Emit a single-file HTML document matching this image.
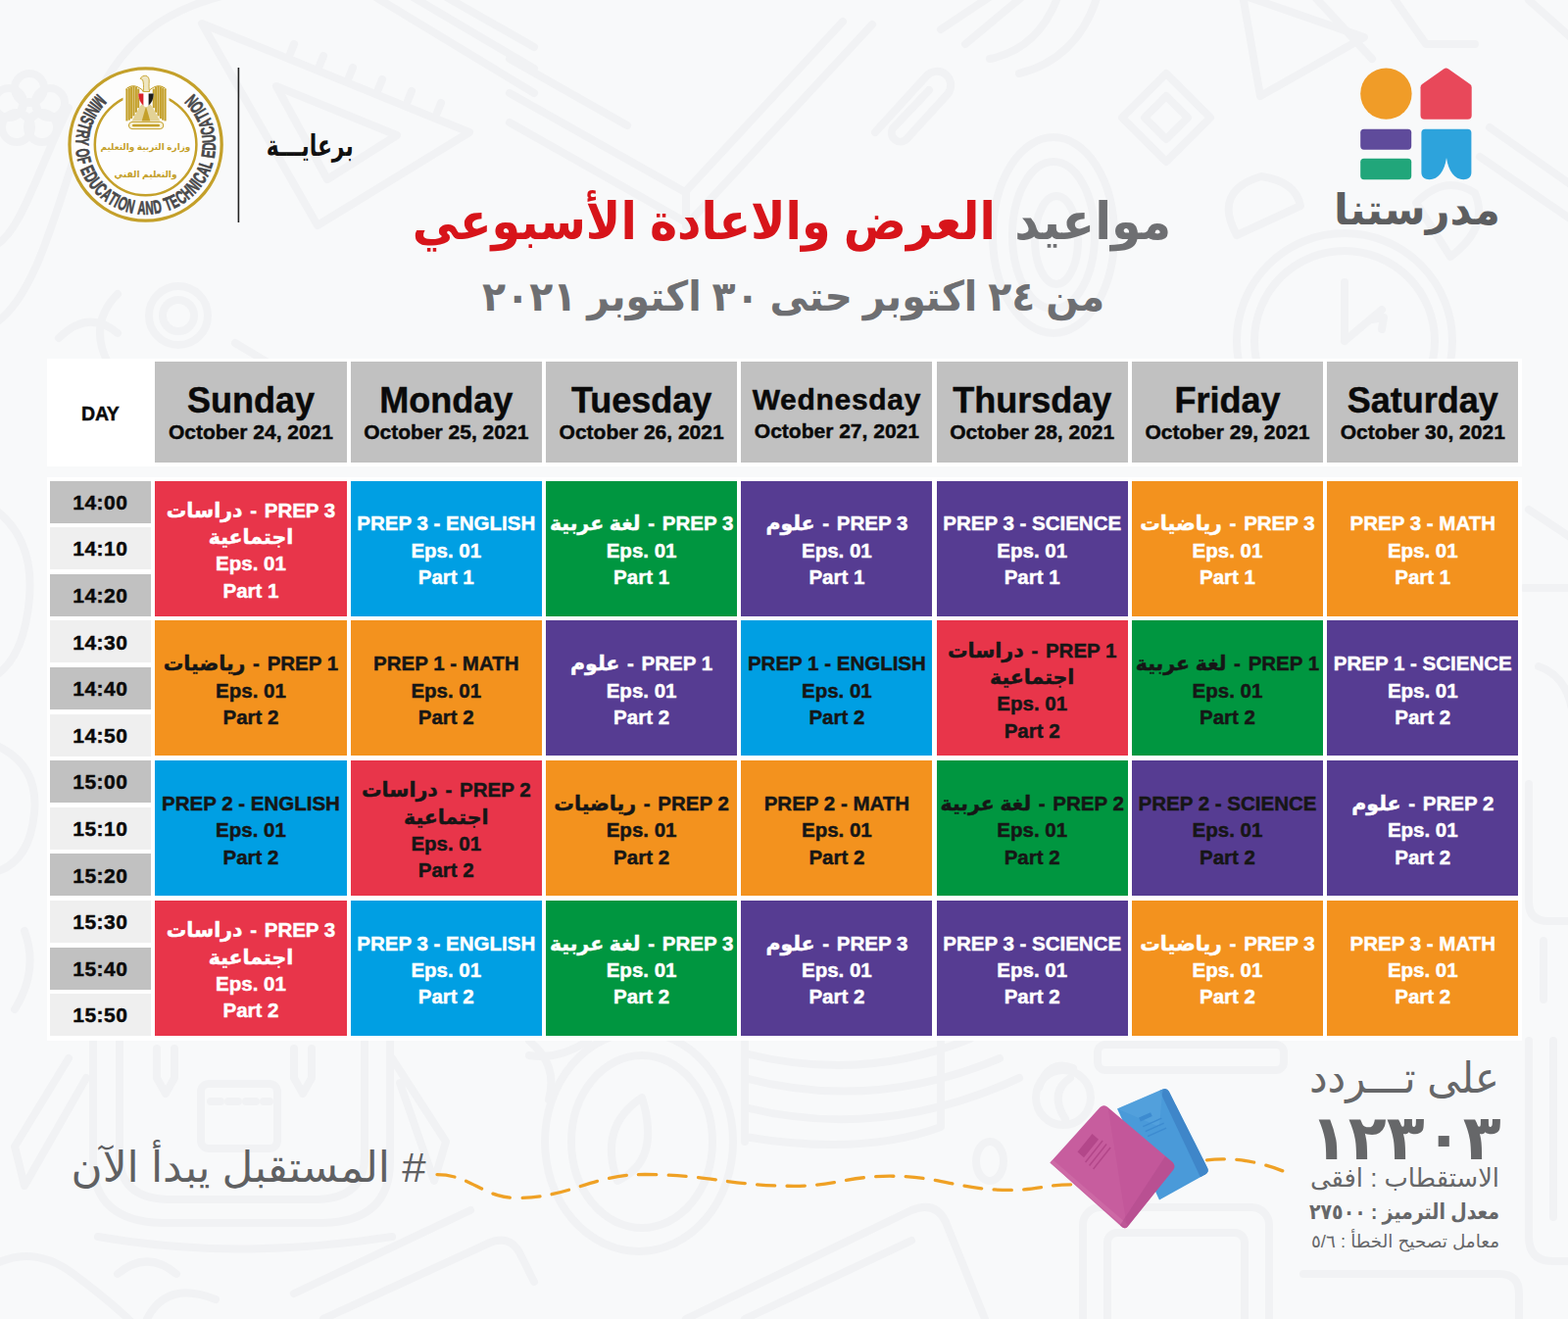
<!DOCTYPE html>
<html lang="en"><head><meta charset="utf-8"><title>Madrasatna weekly schedule</title>
<style>
*{margin:0;padding:0;box-sizing:border-box}
html,body{width:1600px;height:1346px;overflow:hidden;background:#f8f9fa}
body{font-family:"Liberation Sans",sans-serif;font-weight:700;position:relative;-webkit-text-stroke:.45px currentColor}
#root{position:absolute;left:0;top:0;width:1600px;height:1346px;overflow:hidden;background:#f8f9fa}
.abs{position:absolute}
.pn{position:absolute;background:#fff}
.hd{position:absolute;background:#c1c1c1;color:#0a0a0a;text-align:center;white-space:nowrap}
.hd b{position:absolute;left:0;right:0;font-size:36px;line-height:40px;height:40px;font-weight:700;letter-spacing:0}
.hd i{position:absolute;left:0;right:0;font-style:normal;font-size:21px;line-height:26px;height:26px}
.tm{position:absolute;color:#0a0a0a;text-align:center;font-size:21px;white-space:nowrap}
.c{position:absolute;text-align:center;white-space:nowrap;font-size:20.5px;line-height:27.3px;display:flex;flex-direction:column;justify-content:center}
.c p{height:27.3px}
.c p u{text-decoration:none;word-spacing:2px}
.ar{font-family:"Liberation Sans","DejaVu Sans",sans-serif}
svg{display:inline-block}
</style></head><body><div id="root">
<!--BG-->
<svg class="abs" style="left:0;top:0" width="1600" height="1346" viewBox="0 0 1600 1346">
<g fill="none" stroke="#f1f2f4" stroke-width="8" stroke-linecap="round" stroke-linejoin="round"><circle cx="30" cy="90" r="15"/><circle cx="51" cy="105" r="15"/><circle cx="43" cy="130" r="15"/><circle cx="17" cy="130" r="15"/><circle cx="9" cy="105" r="15"/><circle cx="30" cy="112" r="8"/><path d="M-5 330C40 300 60 200 90 120S170 10 230 -5"/><path d="M-5 250C20 240 40 170 70 110"/><path d="M206 24L479 135L324 230Z"/><path d="M282 88L405 138L334 183Z"/><path d="M300 45l-4 10M330 57l-4 10M360 69l-4 10M390 81l-4 10M420 93l-4 10M450 105l-4 10"/><path d="M418 -5L545 70M452 -5L545 48M380 -5L545 95"/><circle cx="182" cy="322" r="30"/><circle cx="182" cy="322" r="16"/><path d="M120 300q-30 30-10 70M240 350l40 24"/><path d="M60 345q30-30 60-5"/><path d="M520 95L699 196L860 22M520 125L702 228L890 25M520 60L640 128"/><path d="M700 196v35"/><path d="M893 135L945 78a14 14 0 0 1 22 18L925 142a9 9 0 0 1-14-11L948 92"/><path d="M960 30l60-40M985 45l60-50"/><ellipse cx="1075" cy="240" rx="62" ry="100"/><ellipse cx="1075" cy="240" rx="42" ry="75"/><ellipse cx="1078" cy="245" rx="22" ry="45"/><path d="M1010 60q50-10 70-65M1040 75q60-15 80-80"/><path d="M1190 75L1235 120L1190 165L1145 120Z" stroke-linejoin="round"/><path d="M1190 98L1212 120L1190 142L1168 120Z"/><path d="M1268 -5L1392 38L1286 98Z"/><path d="M1340 -5L1400 60M1420 -5L1455 45h50"/><circle cx="1372" cy="348" r="110"/><circle cx="1372" cy="348" r="92"/><path d="M1262 240q-25-45 25-60q35 5 40 30zM1480 262q40-30 25-65q-30-20-60 10z"/><path d="M1372 348l38-32M1372 348v-60M1400 326l12-2-2 12"/><path d="M1520 130l85 60M1510 160l95 65M1560 0l45 40"/><path d="M-5 520q40 30 35 90t-35 80M-5 760q45 20 40 70t-40 60M25 950q15 40-10 80"/><path d="M1560 520l45 30M1555 600h50M1570 680q30 10 35 50M1560 800v120q0 20 20 20h25M1575 960v60"/><path d="M95 1058V1185Q95 1246 165 1248H330Q398 1246 398 1185V1058"/><path d="M122 1058V1180Q122 1222 170 1224H325Q372 1222 372 1180V1058"/><rect x="205" y="1106" width="78" height="66" rx="8"/><path d="M215 1124h60" stroke-dasharray="10 8"/><path d="M160 1070v30l9 16l9-16v-30M300 1070v30l9 16l9-16v-30"/><path d="M70 1080L15 1170l10 40L88 1100M400 1080l55 85l-12 40L408 1105"/><path d="M100 1262q140 25 300 0"/><path d="M-5 1290q40-20 80 10t60 50M120 1300q30-25 60 0M150 1346q20-40 70-20"/><path d="M330 1346L500 1268q20-8 30 10l15 30M300 1320l180-85"/><ellipse cx="652" cy="1165" rx="96" ry="112"/><ellipse cx="655" cy="1165" rx="72" ry="88"/><path d="M655 1120q-45 30-25 85q45-20 25-85z"/><path d="M540 1062q30 25 20 60M600 1062q-30 20-60 15"/><path d="M760 1075q120 30 230-15M760 1100q130 35 260-20M760 1130q140 35 280-30M760 1160q120 20 200-10V1062M760 1062V1165"/><path d="M700 1346L930 1235q25-10 35 12l40 99M760 1346l170-80"/><ellipse cx="1010" cy="1185" rx="14" ry="20"/><path d="M1060 1110q10-30 35-20"/><circle cx="1085" cy="1120" r="28"/><path d="M1092 1100q-22 15-5 42"/><rect x="1105" y="1232" width="190" height="140" rx="18"/><rect x="1130" y="1258" width="140" height="110" rx="10"/><rect x="1120" y="1066" width="190" height="26" rx="8"/><path d="M1560 1062v200q0 25 25 25h20M1585 1062v180"/><path d="M1330 1300h200q20 0 20 20v30"/></g><circle cx="148.6" cy="147.5" r="79" fill="#fdfdfd"/>
<circle cx="148.6" cy="147.5" r="77.6" fill="none" stroke="#c4a02a" stroke-width="3.3"/>
<circle cx="148.6" cy="147.5" r="51.8" fill="none" stroke="#c4a02a" stroke-width="2.5"/>
<g font-family="Liberation Sans, sans-serif" font-weight="700" font-size="19.2" fill="#48484a" stroke="#48484a" stroke-width=".7" text-anchor="middle">
<text transform="translate(96.58 98.74) rotate(133.14) scale(0.6 1)">M</text>
<text transform="translate(92.06 104.06) rotate(127.54) scale(0.6 1)">I</text>
<text transform="translate(88.43 109.25) rotate(122.44) scale(0.6 1)">N</text>
<text transform="translate(85.27 114.74) rotate(117.35) scale(0.6 1)">I</text>
<text transform="translate(82.73 120.2) rotate(112.51) scale(0.6 1)">S</text>
<text transform="translate(80.11 127.69) rotate(106.13) scale(0.6 1)">T</text>
<text transform="translate(78.28 135.74) rotate(99.5) scale(0.6 1)">R</text>
<text transform="translate(77.37 144.26) rotate(92.6) scale(0.6 1)">Y</text>
<text transform="translate(77.92 156.91) rotate(82.41) scale(0.6 1)">O</text>
<text transform="translate(79.56 165.33) rotate(75.52) scale(0.6 1)">F</text>
<text transform="translate(83.41 176.38) rotate(66.1) scale(0.6 1)">E</text>
<text transform="translate(87.35 184) rotate(59.21) scale(0.6 1)">D</text>
<text transform="translate(92.37 191.34) rotate(52.06) scale(0.6 1)">U</text>
<text transform="translate(98.26 198) rotate(44.91) scale(0.6 1)">C</text>
<text transform="translate(104.94 203.87) rotate(37.76) scale(0.6 1)">A</text>
<text transform="translate(111.75 208.54) rotate(31.12) scale(0.6 1)">T</text>
<text transform="translate(116.74 211.28) rotate(26.54) scale(0.6 1)">I</text>
<text transform="translate(122.82 213.98) rotate(21.19) scale(0.6 1)">O</text>
<text transform="translate(131.61 216.75) rotate(13.79) scale(0.6 1)">N</text>
<text transform="translate(144.13 218.66) rotate(3.6) scale(0.6 1)">A</text>
<text transform="translate(153.02 218.66) rotate(-3.55) scale(0.6 1)">N</text>
<text transform="translate(161.84 217.56) rotate(-10.7) scale(0.6 1)">D</text>
<text transform="translate(173.42 214.34) rotate(-20.37) scale(0.6 1)">T</text>
<text transform="translate(180.7 211.17) rotate(-26.75) scale(0.6 1)">E</text>
<text transform="translate(188.11 206.85) rotate(-33.65) scale(0.6 1)">C</text>
<text transform="translate(195.19 201.47) rotate(-40.8) scale(0.6 1)">H</text>
<text transform="translate(201.54 195.26) rotate(-47.95) scale(0.6 1)">N</text>
<text transform="translate(205.58 190.37) rotate(-53.04) scale(0.6 1)">I</text>
<text transform="translate(209.16 185.14) rotate(-58.14) scale(0.6 1)">C</text>
<text transform="translate(213.37 177.31) rotate(-65.29) scale(0.6 1)">A</text>
<text transform="translate(216.38 169.62) rotate(-71.92) scale(0.6 1)">L</text>
<text transform="translate(219.09 158.24) rotate(-81.34) scale(0.6 1)">E</text>
<text transform="translate(219.87 149.7) rotate(-88.23) scale(0.6 1)">D</text>
<text transform="translate(219.59 140.81) rotate(-95.38) scale(0.6 1)">U</text>
<text transform="translate(218.2 132.03) rotate(-102.53) scale(0.6 1)">C</text>
<text transform="translate(215.73 123.48) rotate(-109.68) scale(0.6 1)">A</text>
<text transform="translate(212.51 115.89) rotate(-116.32) scale(0.6 1)">T</text>
<text transform="translate(209.78 110.89) rotate(-120.9) scale(0.6 1)">I</text>
<text transform="translate(206.1 105.34) rotate(-126.25) scale(0.6 1)">O</text>
<text transform="translate(200.18 98.28) rotate(-133.66) scale(0.6 1)">N</text>
</g>
<path fill="#fdfdfd" d="M125.5 86h47v41q-23.500 9-47 0z"/>
<rect x="128.4" y="90.8" width="2.1" height="32.6" fill="#c4a02a"/>
<rect x="167.5" y="90.8" width="2.1" height="32.6" fill="#c4a02a"/>
<rect x="130.75" y="89.4" width="2.1" height="33.2" fill="#c4a02a"/>
<rect x="165.15" y="89.4" width="2.1" height="33.2" fill="#c4a02a"/>
<rect x="133.1" y="88.4" width="2.1" height="32.6" fill="#c4a02a"/>
<rect x="162.8" y="88.4" width="2.1" height="32.6" fill="#c4a02a"/>
<rect x="135.45" y="88" width="2.1" height="30.4" fill="#c4a02a"/>
<rect x="160.45" y="88" width="2.1" height="30.4" fill="#c4a02a"/>
<rect x="137.8" y="88.6" width="2.1" height="26.2" fill="#c4a02a"/>
<rect x="158.1" y="88.6" width="2.1" height="26.2" fill="#c4a02a"/>
<rect x="140.15" y="90.6" width="2.1" height="19.6" fill="#c4a02a"/>
<rect x="155.75" y="90.6" width="2.1" height="19.6" fill="#c4a02a"/>
<path fill="none" stroke="#c4a02a" stroke-width="1" d="M128.400 91Q134 86 140 88.500T146 93.500M169.600 91Q164 86 158 88.500T152 93.500"/>
<path fill="#e3d296" d="M142.500 109L149 101l6.500 8L163.500 123.500H134.500z"/>
<path fill="#c4a02a" d="M149 108.500l-4.300 15h8.600z"/>
<path fill="#efe6c2" stroke="#c4a02a" stroke-width=".9" d="M146.200 93.500C146.800 88 146.500 84.500 145.600 81.500L143.200 80.300C144.200 78.200 146.500 77 148.800 77.300C151.200 77.700 152.400 80 152.200 83C152 86.500 151.800 90 152.600 93.500z"/>
<path fill="#fff" d="M141.200 95.400h15.600c0 6-2.800 11-7.800 14.200c-5-3.200-7.800-8.200-7.800-14.200z"/>
<path fill="#d8232a" d="M141.200 95.400h5.200v12.300c-3.400-3-5.200-7.300-5.200-12.300z"/>
<path fill="#1c1c1c" d="M156.800 95.400h-5.200v12.300c3.400-3 5.200-7.300 5.200-12.300z"/>
<rect x="131.400" y="124.400" width="35.400" height="7.200" rx="3.600" fill="#f7f1d8" stroke="#c4a02a" stroke-width="1"/>
<rect x="135" y="126.700" width="28" height="2.600" rx="1.300" fill="#c4a02a"/>
<g font-family="Liberation Sans, DejaVu Sans, sans-serif" style="-webkit-text-stroke:0">
<text x="148.4" y="153" font-size="9" font-weight="700" fill="#c4a02a" text-anchor="middle" textLength="92" lengthAdjust="spacingAndGlyphs">وزارة التربية والتعليم</text>
<text x="148.6" y="181" font-size="9.5" font-weight="700" fill="#c4a02a" text-anchor="middle" textLength="64" lengthAdjust="spacingAndGlyphs">والتعليم الفني</text>
<text x="1195.2" y="243.5" font-size="52" font-weight="700" fill="#6e6f72" text-anchor="end" textLength="160" lengthAdjust="spacingAndGlyphs">مواعيد</text>
<text x="1015.8" y="243.5" font-size="52" font-weight="700" fill="#d7141a" text-anchor="end" textLength="595" lengthAdjust="spacingAndGlyphs">العرض والاعادة الأسبوعي</text>
<text x="809.6" y="316.9" font-size="42" font-weight="700" fill="#6e6f72" text-anchor="middle" textLength="635" lengthAdjust="spacingAndGlyphs">من ٢٤ اكتوبر حتى ٣٠ اكتوبر ٢٠٢١</text>
<text x="360.7" y="159" font-size="30" font-weight="700" fill="#111" text-anchor="end" textLength="89" lengthAdjust="spacingAndGlyphs">برعايـــة</text>
<text x="1531" y="228.5" font-size="44" font-weight="700" fill="#5d5e60" text-anchor="end" textLength="170" lengthAdjust="spacingAndGlyphs">مدرستنا</text>
<text x="1530" y="1115.3" font-size="44" font-weight="400" fill="#666769" text-anchor="end" textLength="194" lengthAdjust="spacingAndGlyphs">على تـــردد</text>
<text x="1531.7" y="1183.1" font-size="64" font-weight="700" fill="#666769" text-anchor="end" textLength="195" lengthAdjust="spacingAndGlyphs">١٢٣٠٣</text>
<text x="1530" y="1210.6" font-size="26" font-weight="400" fill="#666769" text-anchor="end" textLength="193" lengthAdjust="spacingAndGlyphs">الاستقطاب : افقى</text>
<text x="1530" y="1244" font-size="22" font-weight="700" fill="#666769" text-anchor="end" textLength="194" lengthAdjust="spacingAndGlyphs">معدل الترميز : ٢٧٥٠٠</text>
<text x="1530" y="1272.7" font-size="18" font-weight="400" fill="#666769" text-anchor="end" textLength="192" lengthAdjust="spacingAndGlyphs">معامل تصحيح الخطأ : ٥/٦</text>
<text x="434.5" y="1206.2" font-size="43" font-weight="400" fill="#5f6062" text-anchor="end" textLength="362" lengthAdjust="spacingAndGlyphs">&#x200F;# المستقبل يبدأ الآن</text>
</g>
<rect x="242.6" y="69" width="1.6" height="158" fill="#222"/>
<circle cx="1414.4" cy="95.6" r="26.2" fill="#f09c28"/>
<path fill="#e8485a" d="M1453.5 121.7h44.2a4 4 0 0 0 4-4V89.2a4 4 0 0 0-1.5-3.1l-22-15.6a4.5 4.5 0 0 0-5.2 0l-22 15.6a4 4 0 0 0-1.5 3.1v28.5a4 4 0 0 0 4 4z"/>
<rect x="1388.2" y="131.7" width="52" height="21" rx="3.6" fill="#5f4b9b"/>
<rect x="1388.2" y="161.7" width="52" height="21.5" rx="3.6" fill="#21a67a"/>
<path fill="#2da3dc" d="M1454.2 131.7h43.4a3.8 3.8 0 0 1 3.8 3.8v40.5c0 5-3.6 7.2-8 7.2c-9 0-15.5-8.5-17.4-22.2c-1.9 13.7-8.4 22.2-17.4 22.2c-4.4 0-8.2-2.2-8.2-7.2v-40.5a3.8 3.8 0 0 1 3.8-3.8z"/>
<path fill="none" stroke="#efa125" stroke-width="3.3" stroke-linecap="round" stroke-dasharray="18 12.4" d="M446 1198.6C480.02 1198.6 492.98 1222.5 527 1222.5C582.02 1222.5 602.98 1198.5 658 1198.5C721.84 1198.5 746.16 1210.3 810 1210.3C851.16 1210.3 866.84 1200.2 908 1200.2C959.24 1200.2 978.76 1214.4 1030 1214.4C1057.3 1214.4 1067.7 1208.8 1095 1208.8"/>
<path fill="none" stroke="#efa125" stroke-width="3.3" stroke-linecap="round" stroke-dasharray="18 12.4" d="M1231.5 1183.8C1245 1182 1262 1182.5 1279 1186C1290 1188.5 1300 1191 1309 1195"/>
<g><path fill="#4a9ad9" d="M1140 1131.5L1186.5 1111.6q4-1.6 6.3 2.2L1232.2 1192q1.8 4-2 6.2L1183 1224.4z"/><path fill="#3f86c9" d="M1187 1111.400q3.800-1.400 5.800 2.400L1232.200 1192q1.800 4-2 6.200l-5.300 3L1183.200 1113z"/><path fill="#5aa6e0" d="M1140 1131.500L1186.500 1111.600L1183 1150z" opacity=".5"/><path fill="#3d8bd0" d="M1162 1140.500l12-5.300 1.800 3.800-12 5.400zM1166 1149l19-8.500.6 1.300-19 8.500zM1168.400 1154l19-8.500.6 1.300-19 8.500zM1170.800 1159l19-8.500.6 1.300-19 8.500z"/></g>
<g><path fill="#c3579a" d="M1071.5 1186.500L1122.500 1130q4-3.600 8 0L1196.500 1186q3.600 4 .5 8L1150.500 1252q-2.600 2.600-5.600 0z"/><path fill="#d070aa" d="M1071.500 1186.500l2.800-3.100 76.600 66.400-2.400 3.400z" opacity=".7"/><path fill="#cf6aa6" d="M1122.500 1130q4-3.600 8 0L1150 1252q-2.600 2.600-5.600 0L1071.500 1186.500z" opacity=".35"/><path fill="#b04a8c" d="M1189 1180l7.500 6q3.600 4 .5 8L1150.500 1252q-2.600 2.600-5.600 0l-2-1.800z" opacity=".55"/><path fill="#b3478a" d="M1114.500 1157l6.500 5.800-15 18.500-6.500-5.800zM1124.500 1163.500l1.200 1-17.500 22-1.200-1zM1128.500 1167l1.200 1-17.500 22-1.200-1zM1132.500 1170.500l1.200 1-17.500 22-1.200-1z"/></g>
</svg>
<div class="pn" style="left:47.5px;top:365.5px;width:1505.5px;height:110.5px"></div>
<div class="pn" style="left:47.5px;top:486.5px;width:1505.5px;height:575.2px"></div>
<div class="abs" style="left:49px;top:369px;width:106.1px;height:103.1px;background:#fff"></div>
<div class="tm" style="left:50.6px;top:406.84px;width:103.5px;height:30px;line-height:30px;font-size:19.5px;letter-spacing:-0.3px">DAY</div>
<div class="hd" style="left:158.4px;top:369px;width:195.2px;height:103.1px"><b style="top:19.83px;font-size:36px;">Sunday</b><i style="top:59.12px">October 24, 2021</i></div>
<div class="hd" style="left:357.7px;top:369px;width:195.2px;height:103.1px"><b style="top:19.83px;font-size:36px;">Monday</b><i style="top:59.12px">October 25, 2021</i></div>
<div class="hd" style="left:557px;top:369px;width:195.2px;height:103.1px"><b style="top:19.83px;font-size:36px;">Tuesday</b><i style="top:59.12px">October 26, 2021</i></div>
<div class="hd" style="left:756.3px;top:369px;width:195.2px;height:103.1px"><b style="top:19px;font-size:30px;letter-spacing:0.7px;">Wednesday</b><i style="top:57.82px">October 27, 2021</i></div>
<div class="hd" style="left:955.6px;top:369px;width:195.2px;height:103.1px"><b style="top:19.83px;font-size:36px;">Thursday</b><i style="top:59.12px">October 28, 2021</i></div>
<div class="hd" style="left:1154.9px;top:369px;width:195.2px;height:103.1px"><b style="top:19.83px;font-size:36px;">Friday</b><i style="top:59.12px">October 29, 2021</i></div>
<div class="hd" style="left:1354.2px;top:369px;width:195.2px;height:103.1px"><b style="top:19.83px;font-size:36px;">Saturday</b><i style="top:59.12px">October 30, 2021</i></div>
<div class="tm" style="left:50.6px;top:490.6px;width:103.5px;height:43px;line-height:43px;background:#c1c1c1;padding-top:.2px;letter-spacing:.5px">14:00</div>
<div class="tm" style="left:50.6px;top:538.2px;width:103.5px;height:43px;line-height:43px;background:#efefef;padding-top:.2px;letter-spacing:.5px">14:10</div>
<div class="tm" style="left:50.6px;top:585.8px;width:103.5px;height:43px;line-height:43px;background:#c1c1c1;padding-top:.2px;letter-spacing:.5px">14:20</div>
<div class="tm" style="left:50.6px;top:633.4px;width:103.5px;height:43px;line-height:43px;background:#efefef;padding-top:.2px;letter-spacing:.5px">14:30</div>
<div class="tm" style="left:50.6px;top:681px;width:103.5px;height:43px;line-height:43px;background:#c1c1c1;padding-top:.2px;letter-spacing:.5px">14:40</div>
<div class="tm" style="left:50.6px;top:728.6px;width:103.5px;height:43px;line-height:43px;background:#efefef;padding-top:.2px;letter-spacing:.5px">14:50</div>
<div class="tm" style="left:50.6px;top:776.2px;width:103.5px;height:43px;line-height:43px;background:#c1c1c1;padding-top:.2px;letter-spacing:.5px">15:00</div>
<div class="tm" style="left:50.6px;top:823.8px;width:103.5px;height:43px;line-height:43px;background:#efefef;padding-top:.2px;letter-spacing:.5px">15:10</div>
<div class="tm" style="left:50.6px;top:871.4px;width:103.5px;height:43px;line-height:43px;background:#c1c1c1;padding-top:.2px;letter-spacing:.5px">15:20</div>
<div class="tm" style="left:50.6px;top:919px;width:103.5px;height:43px;line-height:43px;background:#efefef;padding-top:.2px;letter-spacing:.5px">15:30</div>
<div class="tm" style="left:50.6px;top:966.6px;width:103.5px;height:43px;line-height:43px;background:#c1c1c1;padding-top:.2px;letter-spacing:.5px">15:40</div>
<div class="tm" style="left:50.6px;top:1014.2px;width:103.5px;height:43px;line-height:43px;background:#efefef;padding-top:.2px;letter-spacing:.5px">15:50</div>
<div class="c" style="left:158.4px;top:490.6px;width:195.2px;height:138.1px;background:#e8354a;color:#fff;padding-top:3.6px"><p class="r"><span class="ar" dir="rtl">دراسات</span><u> - </u>PREP 3</p><p class="r"><span class="ar" dir="rtl">اجتماعية</span></p><p>Eps. 01</p><p>Part 1</p></div>
<div class="c" style="left:357.7px;top:490.6px;width:195.2px;height:138.1px;background:#009fe3;color:#fff;padding-top:3.6px"><p>PREP 3 - ENGLISH</p><p>Eps. 01</p><p>Part 1</p></div>
<div class="c" style="left:557px;top:490.6px;width:195.2px;height:138.1px;background:#009640;color:#fff;padding-top:3.6px"><p class="r"><span class="ar" dir="rtl">لغة عربية</span><u> - </u>PREP 3</p><p>Eps. 01</p><p>Part 1</p></div>
<div class="c" style="left:756.3px;top:490.6px;width:195.2px;height:138.1px;background:#563c92;color:#fff;padding-top:3.6px"><p class="r"><span class="ar" dir="rtl">علوم</span><u> - </u>PREP 3</p><p>Eps. 01</p><p>Part 1</p></div>
<div class="c" style="left:955.6px;top:490.6px;width:195.2px;height:138.1px;background:#563c92;color:#fff;padding-top:3.6px"><p>PREP 3 - SCIENCE</p><p>Eps. 01</p><p>Part 1</p></div>
<div class="c" style="left:1154.9px;top:490.6px;width:195.2px;height:138.1px;background:#f3921e;color:#fff;padding-top:3.6px"><p class="r"><span class="ar" dir="rtl">رياضيات</span><u> - </u>PREP 3</p><p>Eps. 01</p><p>Part 1</p></div>
<div class="c" style="left:1354.2px;top:490.6px;width:195.2px;height:138.1px;background:#f3921e;color:#fff;padding-top:3.6px"><p>PREP 3 - MATH</p><p>Eps. 01</p><p>Part 1</p></div>
<div class="c" style="left:158.4px;top:633.4px;width:195.2px;height:138.1px;background:#f3921e;color:#161616;padding-top:3.6px"><p class="r"><span class="ar" dir="rtl">رياضيات</span><u> - </u>PREP 1</p><p>Eps. 01</p><p>Part 2</p></div>
<div class="c" style="left:357.7px;top:633.4px;width:195.2px;height:138.1px;background:#f3921e;color:#161616;padding-top:3.6px"><p>PREP 1 - MATH</p><p>Eps. 01</p><p>Part 2</p></div>
<div class="c" style="left:557px;top:633.4px;width:195.2px;height:138.1px;background:#563c92;color:#fff;padding-top:3.6px"><p class="r"><span class="ar" dir="rtl">علوم</span><u> - </u>PREP 1</p><p>Eps. 01</p><p>Part 2</p></div>
<div class="c" style="left:756.3px;top:633.4px;width:195.2px;height:138.1px;background:#009fe3;color:#161616;padding-top:3.6px"><p>PREP 1 - ENGLISH</p><p>Eps. 01</p><p>Part 2</p></div>
<div class="c" style="left:955.6px;top:633.4px;width:195.2px;height:138.1px;background:#e8354a;color:#161616;padding-top:3.6px"><p class="r"><span class="ar" dir="rtl">دراسات</span><u> - </u>PREP 1</p><p class="r"><span class="ar" dir="rtl">اجتماعية</span></p><p>Eps. 01</p><p>Part 2</p></div>
<div class="c" style="left:1154.9px;top:633.4px;width:195.2px;height:138.1px;background:#009640;color:#161616;padding-top:3.6px"><p class="r"><span class="ar" dir="rtl">لغة عربية</span><u> - </u>PREP 1</p><p>Eps. 01</p><p>Part 2</p></div>
<div class="c" style="left:1354.2px;top:633.4px;width:195.2px;height:138.1px;background:#563c92;color:#fff;padding-top:3.6px"><p>PREP 1 - SCIENCE</p><p>Eps. 01</p><p>Part 2</p></div>
<div class="c" style="left:158.4px;top:776.2px;width:195.2px;height:138.1px;background:#009fe3;color:#161616;padding-top:3.6px"><p>PREP 2 - ENGLISH</p><p>Eps. 01</p><p>Part 2</p></div>
<div class="c" style="left:357.7px;top:776.2px;width:195.2px;height:138.1px;background:#e8354a;color:#161616;padding-top:3.6px"><p class="r"><span class="ar" dir="rtl">دراسات</span><u> - </u>PREP 2</p><p class="r"><span class="ar" dir="rtl">اجتماعية</span></p><p>Eps. 01</p><p>Part 2</p></div>
<div class="c" style="left:557px;top:776.2px;width:195.2px;height:138.1px;background:#f3921e;color:#161616;padding-top:3.6px"><p class="r"><span class="ar" dir="rtl">رياضيات</span><u> - </u>PREP 2</p><p>Eps. 01</p><p>Part 2</p></div>
<div class="c" style="left:756.3px;top:776.2px;width:195.2px;height:138.1px;background:#f3921e;color:#161616;padding-top:3.6px"><p>PREP 2 - MATH</p><p>Eps. 01</p><p>Part 2</p></div>
<div class="c" style="left:955.6px;top:776.2px;width:195.2px;height:138.1px;background:#009640;color:#161616;padding-top:3.6px"><p class="r"><span class="ar" dir="rtl">لغة عربية</span><u> - </u>PREP 2</p><p>Eps. 01</p><p>Part 2</p></div>
<div class="c" style="left:1154.9px;top:776.2px;width:195.2px;height:138.1px;background:#563c92;color:#161616;padding-top:3.6px"><p>PREP 2 - SCIENCE</p><p>Eps. 01</p><p>Part 2</p></div>
<div class="c" style="left:1354.2px;top:776.2px;width:195.2px;height:138.1px;background:#563c92;color:#fff;padding-top:3.6px"><p class="r"><span class="ar" dir="rtl">علوم</span><u> - </u>PREP 2</p><p>Eps. 01</p><p>Part 2</p></div>
<div class="c" style="left:158.4px;top:919px;width:195.2px;height:138.1px;background:#e8354a;color:#fff;padding-top:3.6px"><p class="r"><span class="ar" dir="rtl">دراسات</span><u> - </u>PREP 3</p><p class="r"><span class="ar" dir="rtl">اجتماعية</span></p><p>Eps. 01</p><p>Part 2</p></div>
<div class="c" style="left:357.7px;top:919px;width:195.2px;height:138.1px;background:#009fe3;color:#fff;padding-top:3.6px"><p>PREP 3 - ENGLISH</p><p>Eps. 01</p><p>Part 2</p></div>
<div class="c" style="left:557px;top:919px;width:195.2px;height:138.1px;background:#009640;color:#fff;padding-top:3.6px"><p class="r"><span class="ar" dir="rtl">لغة عربية</span><u> - </u>PREP 3</p><p>Eps. 01</p><p>Part 2</p></div>
<div class="c" style="left:756.3px;top:919px;width:195.2px;height:138.1px;background:#563c92;color:#fff;padding-top:3.6px"><p class="r"><span class="ar" dir="rtl">علوم</span><u> - </u>PREP 3</p><p>Eps. 01</p><p>Part 2</p></div>
<div class="c" style="left:955.6px;top:919px;width:195.2px;height:138.1px;background:#563c92;color:#fff;padding-top:3.6px"><p>PREP 3 - SCIENCE</p><p>Eps. 01</p><p>Part 2</p></div>
<div class="c" style="left:1154.9px;top:919px;width:195.2px;height:138.1px;background:#f3921e;color:#fff;padding-top:3.6px"><p class="r"><span class="ar" dir="rtl">رياضيات</span><u> - </u>PREP 3</p><p>Eps. 01</p><p>Part 2</p></div>
<div class="c" style="left:1354.2px;top:919px;width:195.2px;height:138.1px;background:#f3921e;color:#fff;padding-top:3.6px"><p>PREP 3 - MATH</p><p>Eps. 01</p><p>Part 2</p></div>
</div></body></html>
